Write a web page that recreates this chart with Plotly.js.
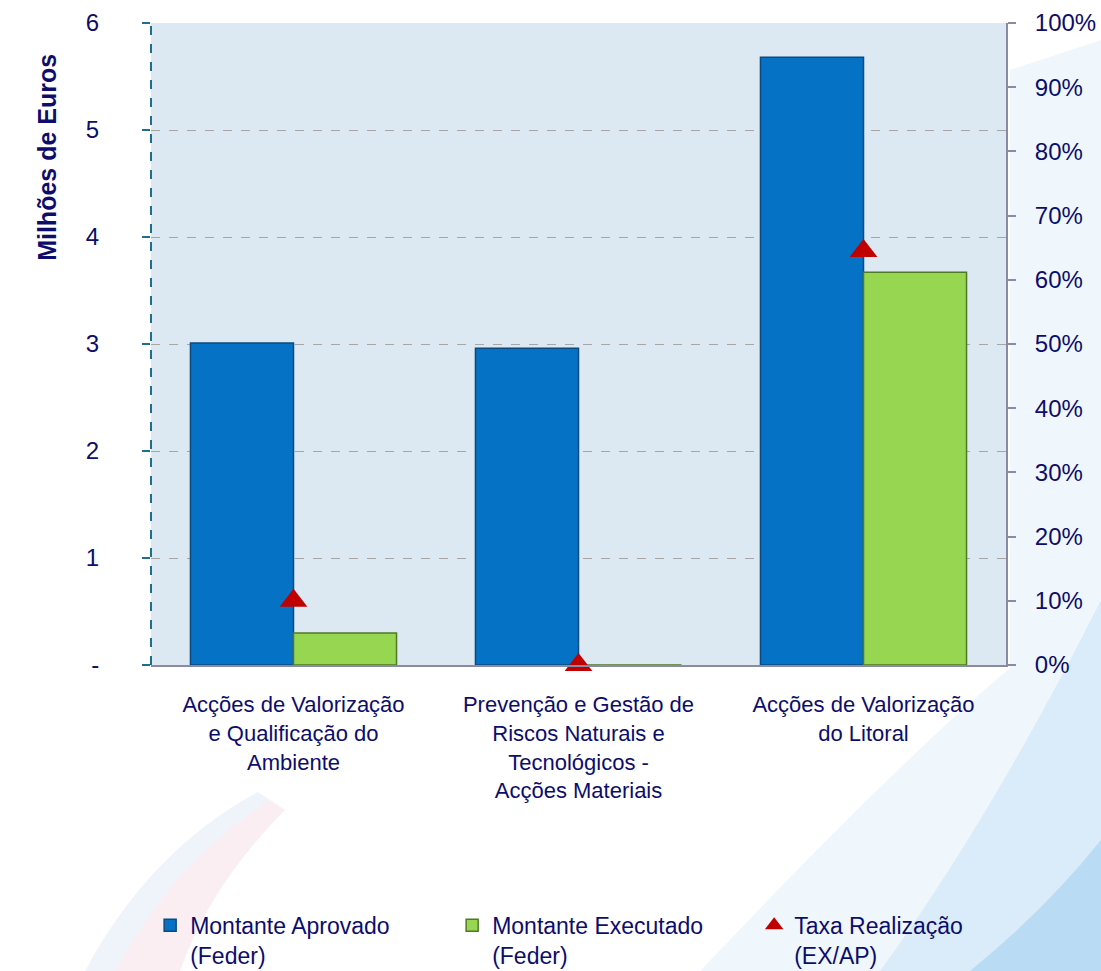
<!DOCTYPE html>
<html>
<head>
<meta charset="utf-8">
<script src="https://cdn.plot.ly/plotly-3.0.1.min.js"></script>
<style>html,body{margin:0;padding:0;background:#fff;}#chart{width:1101px;height:971px;}</style>
</head>
<body>
<div id="chart"></div>
<script>
const categories = [
  "Acções de Valorização<br>e Qualificação do<br>Ambiente",
  "Prevenção e Gestão de<br>Riscos Naturais e<br>Tecnológicos -<br>Acções Materiais",
  "Acções de Valorização<br>do Litoral"
];
const aprovado = [3.01, 2.96, 5.68];
const executado = [0.30, 0.0, 3.67];
const taxa = [0.10, 0.0, 0.645];
const leftTickVals = [0, 1, 2, 3, 4, 5, 6];
const leftTickText = ["-", "1", "2", "3", "4", "5", "6"];
const seriesNames = ["Montante Aprovado<br>(Feder)", "Montante Executado<br>(Feder)", "Taxa Realização<br>(EX/AP)"];

const navy = "#0d0d6b";
const font = {family: "Liberation Sans, Arial, sans-serif", color: navy};

// decorative background helpers (pixel -> paper)
const L = 151, W = 855, B = 665, H = 642;
function P(px, py) { return ((px - L) / W).toFixed(4) + " " + ((B - py) / H).toFixed(4); }
function deco(path, fill) {
  return {type: "path", xref: "paper", yref: "paper", layer: "below", path: path,
          fillcolor: fill, line: {width: 0}};
}
const decoShapes = [
  deco("M " + P(1010, 70) + " L " + P(1101, 40) + " L " + P(1101, 971) + " L " + P(700, 971) +
       " Q " + P(900, 760) + " " + P(1010, 668) + " Z", "rgba(205,228,246,0.30)"),
  deco("M " + P(1101, 600) + " L " + P(1101, 971) + " L " + P(880, 971) +
       " Q " + P(990, 820) + " " + P(1101, 600) + " Z", "rgba(120,190,238,0.18)"),
  deco("M " + P(1101, 840) + " L " + P(1101, 971) + " L " + P(970, 971) +
       " Q " + P(1045, 910) + " " + P(1101, 840) + " Z", "rgba(70,165,228,0.22)"),
  deco("M " + P(115, 971) + " Q " + P(175, 860) + " " + P(270, 800) +
       " L " + P(285, 810) + " Q " + P(210, 885) + " " + P(180, 971) + " Z", "rgba(215,120,160,0.13)"),
  deco("M " + P(85, 971) + " Q " + P(150, 850) + " " + P(258, 792) +
       " L " + P(270, 800) + " Q " + P(175, 860) + " " + P(115, 971) + " Z", "rgba(140,180,225,0.14)")
];

const traces = [
  {type: "bar", name: seriesNames[0], x: categories, y: aprovado,
   marker: {color: "#0672c6", line: {color: "#0a4a80", width: 1.5}}, hoverinfo: "y"},
  {type: "bar", name: seriesNames[1], x: categories, y: executado,
   marker: {color: "#96d650", line: {color: "#4f7a25", width: 1.5}}, hoverinfo: "y"},
  {type: "scatter", mode: "markers", name: seriesNames[2], x: categories, y: taxa, yaxis: "y2",
   cliponaxis: false,
   marker: {symbol: "triangle-up", size: 24, color: "#c00000"}, hoverinfo: "y"}
];

const layout = {
  width: 1101, height: 971,
  margin: {l: 151, r: 95, t: 23, b: 306, autoexpand: false},
  paper_bgcolor: "#ffffff",
  plot_bgcolor: "#dce8f2",
  font: Object.assign({size: 20}, font),
  showlegend: true,
  barmode: "group",
  bargap: 0.277,
  bargroupgap: 0,
  xaxis: {
    type: "category",
    showline: true, linecolor: "#8a8aa6", linewidth: 2,
    ticks: "", showgrid: false,
    tickfont: Object.assign({size: 22}, font),
    ticklabelstandoff: 19
  },
  yaxis: {
    range: [0, 6],
    tickvals: leftTickVals, ticktext: leftTickText,
    ticks: "outside", ticklen: 8, tickcolor: "#1f6e8c", tickwidth: 2,
    showgrid: true, gridcolor: "#a6a6a6", griddash: "dash", gridwidth: 1,
    zeroline: false, showline: false,
    tickfont: Object.assign({size: 24}, font),
    ticklabelstandoff: 38
  },
  yaxis2: {
    range: [0, 1], overlaying: "y", side: "right",
    tickformat: ".0%", dtick: 0.1,
    ticks: "outside", ticklen: 8, tickcolor: "#8a8aa6", tickwidth: 2,
    showline: true, linecolor: "#8a8aa6", linewidth: 2,
    showgrid: false, zeroline: false,
    tickfont: Object.assign({size: 24}, font),
    ticklabelstandoff: 14
  },
  legend: {
    orientation: "h", x: -0.001, xanchor: "left", y: -0.372, yanchor: "top",
    valign: "top",
    font: Object.assign({size: 23}, font),
    entrywidth: 257, entrywidthmode: "pixels",
    bgcolor: "rgba(0,0,0,0)", itemwidth: 30
  },
  shapes: decoShapes.concat([
    {type: "line", xref: "paper", yref: "paper", x0: 0, x1: 0, y0: 0, y1: 1,
     line: {color: "#1f6e8c", width: 2, dash: "dash"}}
  ]),
  annotations: [
    {text: "<b>Milhões de Euros</b>", xref: "paper", yref: "paper",
     x: -0.1216, y: 0.79, xanchor: "center", yanchor: "middle", textangle: -90,
     showarrow: false, font: Object.assign({size: 25}, font)}
  ]
};

Plotly.newPlot("chart", traces, layout, {displayModeBar: false, staticPlot: true});
</script>
</body>
</html>
